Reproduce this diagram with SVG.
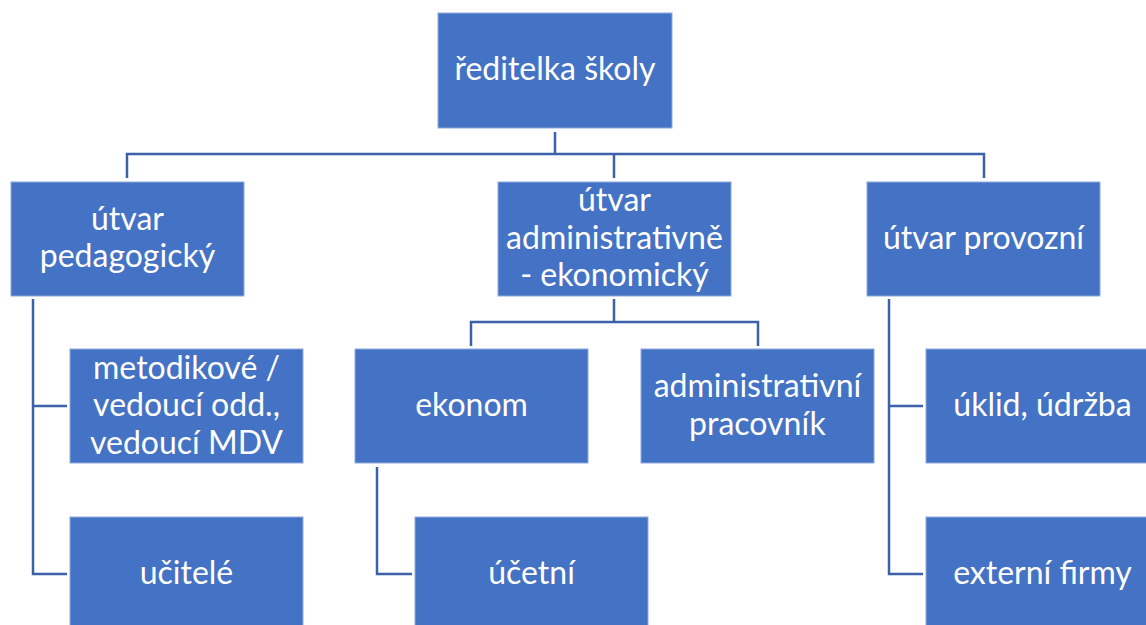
<svg xmlns="http://www.w3.org/2000/svg" width="1146" height="625" viewBox="0 0 1146 625">
<style>
.box{fill:#4472C4;stroke:#8FAADC;stroke-width:1}
.lbl{font-family:Lato,"Open Sans","Liberation Sans",sans-serif;font-size:32px;fill:#FFFFFF;text-anchor:middle}
.con{fill:none;stroke:#3B62A8;stroke-width:2.5}
</style>
<rect width="1146" height="625" fill="#FFFFFF"/>
<g id="connectors">
<path class="con" d="M555,132 V154 M127,178 V154 H984 V178 M614,154 V178"/>
<path class="con" d="M33,299 V574 H67 M33,406 H67"/>
<path class="con" d="M614,299 V322 M471,346 V322 H758 V346"/>
<path class="con" d="M377,467 V574 H412"/>
<path class="con" d="M889,299 V574 H923 M889,406 H923"/>
</g>
<g id="reditelka">
<rect class="box" x="438" y="13" width="234" height="115"/>
<text class="lbl" x="555" y="80">ředitelka školy</text>
</g>
<g id="pedagogicky">
<rect class="box" x="11" y="182" width="233" height="114"/>
<text class="lbl" x="127.5" y="230">útvar</text>
<text class="lbl" x="127.5" y="267">pedagogický</text>
</g>
<g id="administrativne">
<rect class="box" x="498" y="182" width="233" height="114"/>
<text class="lbl" x="614.5" y="211">útvar</text>
<text class="lbl" x="614.5" y="248.5">administrativně</text>
<text class="lbl" x="614.5" y="286">- ekonomický</text>
</g>
<g id="provozni">
<rect class="box" x="867" y="182" width="233" height="114"/>
<text class="lbl" x="983.5" y="248.5">útvar provozní</text>
</g>
<g id="metodicke">
<rect class="box" x="70" y="349" width="233" height="114"/>
<text class="lbl" x="186.5" y="378.5">metodikové /</text>
<text class="lbl" x="186.5" y="416">vedoucí odd.,</text>
<text class="lbl" x="186.5" y="453.5">vedoucí MDV</text>
</g>
<g id="ucitele">
<rect class="box" x="70" y="517" width="233" height="114"/>
<text class="lbl" x="186.5" y="584">učitelé</text>
</g>
<g id="ekonom">
<rect class="box" x="355" y="349" width="233" height="114"/>
<text class="lbl" x="471.5" y="416">ekonom</text>
</g>
<g id="administrativni-pracovnik">
<rect class="box" x="641" y="349" width="233" height="114"/>
<text class="lbl" x="757.5" y="397">administrativní</text>
<text class="lbl" x="757.5" y="434.5">pracovník</text>
</g>
<g id="ucetni">
<rect class="box" x="415" y="517" width="233" height="114"/>
<text class="lbl" x="531.5" y="584">účetní</text>
</g>
<g id="uklid">
<rect class="box" x="926" y="349" width="233" height="114"/>
<text class="lbl" x="1042.5" y="416">úklid, údržba</text>
</g>
<g id="externi">
<rect class="box" x="926" y="517" width="233" height="114"/>
<text class="lbl" x="1042.5" y="584">externí firmy</text>
</g>
</svg>
